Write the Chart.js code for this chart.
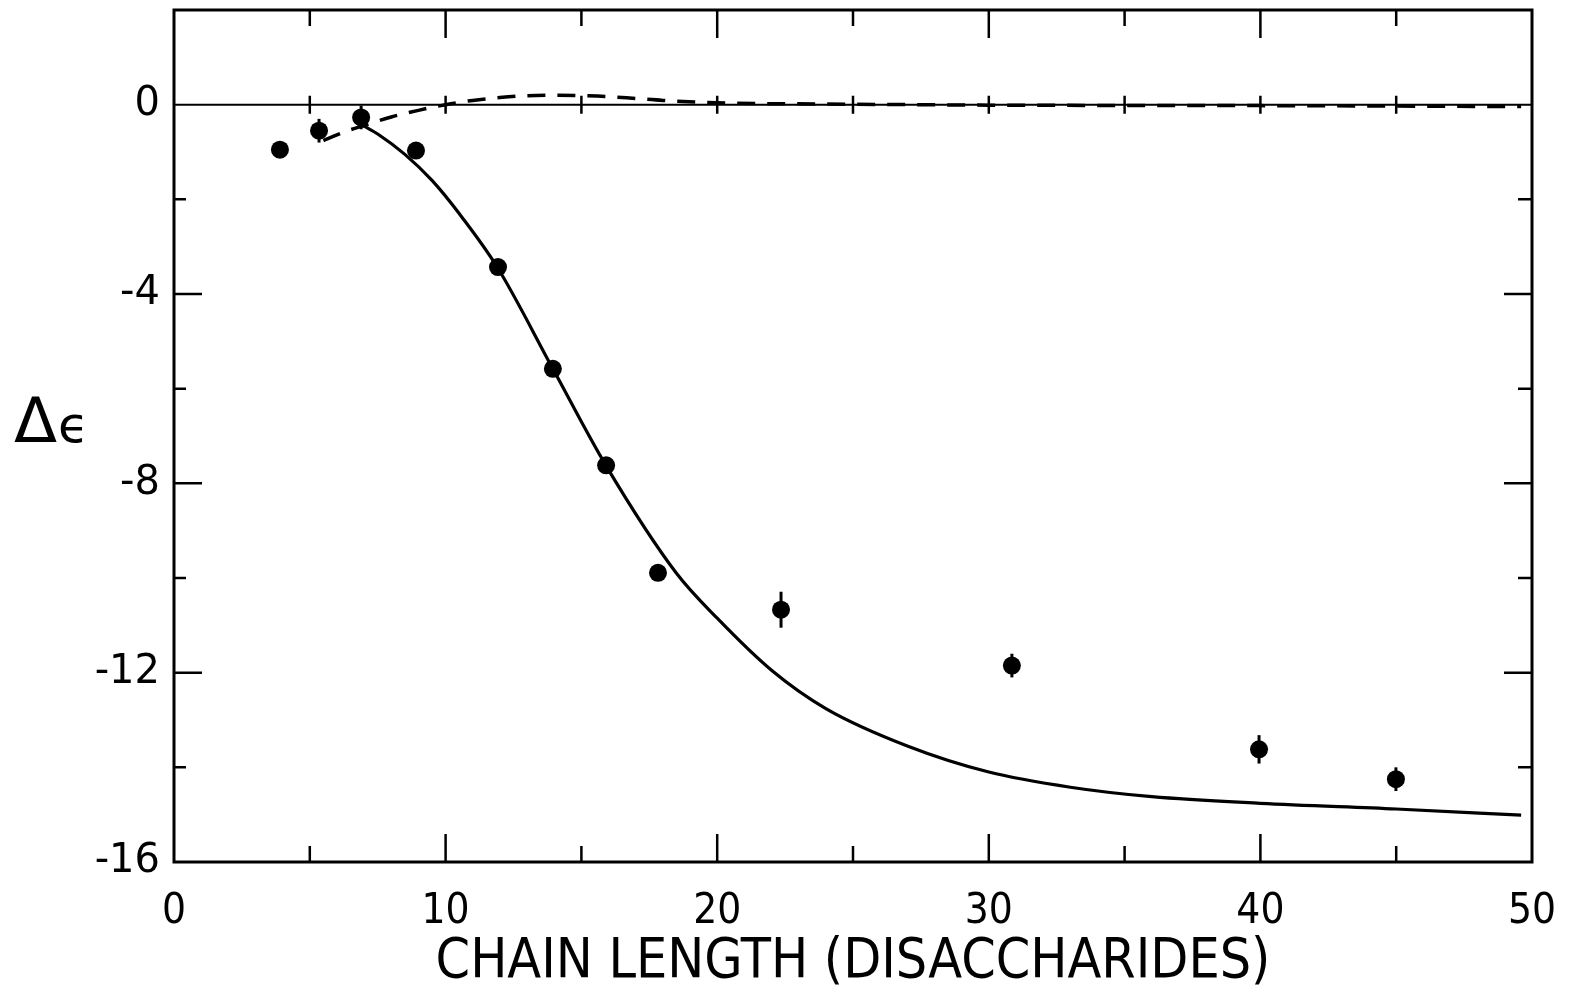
<!DOCTYPE html>
<html>
<head>
<meta charset="utf-8">
<script src="https://cdn.jsdelivr.net/npm/chart.js@4.4.1/dist/chart.umd.min.js"></script>
<style>
html,body{margin:0;padding:0;background:#fff;}
#wrap{width:1572px;height:990px;}
</style>
</head>
<body>
<div id="wrap"><canvas id="c" width="1572" height="990"></canvas></div>
<script>
// ---- data ----
const pointX   = [3.90, 5.34, 6.89, 8.91, 11.93, 13.95, 15.91, 17.82, 22.35, 30.85, 39.95, 44.99];
const pointY   = [-0.95, -0.55, -0.27, -0.97, -3.43, -5.58, -7.62, -9.89, -10.67, -11.85, -13.62, -14.25];
const pointErr = [0, 0.25, 0.25, 0, 0, 0, 0, 0, 0.38, 0.25, 0.30, 0.25];

const fitX = [6.9, 7.5, 8.5, 9.5, 10.5, 11.9, 13.95, 15.9, 18.5, 20, 22, 24, 27, 30, 33, 36, 40, 45, 49.6];
const fitY = [-0.42, -0.62, -1.05, -1.6, -2.3, -3.43, -5.58, -7.62, -9.9, -10.85, -11.95, -12.76, -13.55, -14.1, -14.42, -14.62, -14.76, -14.88, -15.01];

const dashX = [5.5, 6.0, 6.5, 7.0, 8.0, 9.0, 10.0, 11.0, 12.0, 13.0, 14.0, 15.0, 16.0, 17.0, 18.0, 20.0, 25.0, 30.0, 40.0, 49.6];
const dashY = [-0.76, -0.64, -0.53, -0.44, -0.26, -0.12, 0.0, 0.09, 0.15, 0.19, 0.2, 0.19, 0.17, 0.13, 0.09, 0.04, 0.01, -0.01, -0.02, -0.04];

const xTickLabels = [0, 10, 20, 30, 40, 50];
const xMinorTicks = [5, 15, 25, 35, 45];
const yTickLabels = [0, -4, -8, -12, -16];
const yMinorTicks = [2, -2, -6, -10, -14];

const xTitle = 'CHAIN LENGTH (DISACCHARIDES)';
const yTitleA = 'Δ';
const yTitleB = 'ϵ';

const toXY = (xs, ys) => xs.map((x, i) => ({x: x, y: ys[i]}));

const framePlugin = {
  id: 'frame',
  afterDatasetsDraw(chart) {
    const ctx = chart.ctx, a = chart.chartArea;
    const xs = chart.scales.x, ys = chart.scales.y;
    ctx.save();
    ctx.strokeStyle = '#000';
    ctx.lineCap = 'butt';
    // frame
    ctx.lineWidth = 3;
    ctx.strokeRect(a.left, a.top, a.right - a.left, a.bottom - a.top);
    // zero line
    const y0 = ys.getPixelForValue(0);
    ctx.lineWidth = 2;
    ctx.beginPath(); ctx.moveTo(a.left, y0); ctx.lineTo(a.right, y0); ctx.stroke();
    // x ticks (inward, bottom & top) + crossing ticks at zero line
    ctx.lineWidth = 2.5;
    const xMajor = xTickLabels.filter(v => v > 0 && v < 50);
    const drawX = (v, len) => {
      const px = xs.getPixelForValue(v);
      ctx.beginPath();
      ctx.moveTo(px, a.bottom); ctx.lineTo(px, a.bottom - len);
      ctx.moveTo(px, a.top); ctx.lineTo(px, a.top + len);
      ctx.moveTo(px, y0 - 9); ctx.lineTo(px, y0 + 9);
      ctx.stroke();
    };
    xMajor.forEach(v => drawX(v, 28));
    xMinorTicks.forEach(v => drawX(v, 16));
    // y ticks (inward, left & right)
    const drawY = (v, lenL, lenR) => {
      const py = ys.getPixelForValue(v);
      ctx.beginPath();
      ctx.moveTo(a.left, py); ctx.lineTo(a.left + lenL, py);
      ctx.moveTo(a.right, py); ctx.lineTo(a.right - lenR, py);
      ctx.stroke();
    };
    yTickLabels.filter(v => v > -16 && v !== 0).forEach(v => drawY(v, 28, 28));
    yMinorTicks.filter(v => v < 2).forEach(v => drawY(v, 12, 14));
    // error bars
    ctx.lineWidth = 3;
    pointX.forEach((x, i) => {
      if (!pointErr[i]) return;
      const px = xs.getPixelForValue(x);
      ctx.beginPath();
      ctx.moveTo(px, ys.getPixelForValue(pointY[i] + pointErr[i]));
      ctx.lineTo(px, ys.getPixelForValue(pointY[i] - pointErr[i]));
      ctx.stroke();
    });
    // y title, horizontal
    ctx.fillStyle = '#000';
    ctx.textAlign = 'left';
    ctx.textBaseline = 'alphabetic';
    ctx.font = '63px "DejaVu Sans"';
    ctx.fillText(yTitleA, 14, 442);
    const w = ctx.measureText(yTitleA).width;
    ctx.font = '50px "DejaVu Sans"';
    ctx.fillText(yTitleB, 14 + w + 1, 442);
    ctx.restore();
  }
};

const zeroPad = s => { s.paddingTop = 0; s.paddingBottom = 0; s.paddingLeft = 0; s.paddingRight = 0; };

new Chart(document.getElementById('c'), {
  type: 'scatter',
  data: {
    datasets: [
      {
        label: 'fit', type: 'line', data: toXY(fitX, fitY),
        borderColor: '#000', borderWidth: 3.2, pointRadius: 0,
        cubicInterpolationMode: 'monotone', fill: false, order: 2
      },
      {
        label: 'dashed', type: 'line', data: toXY(dashX, dashY),
        borderColor: '#000', borderWidth: 3.5, borderDash: [18, 12], pointRadius: 0,
        cubicInterpolationMode: 'monotone', fill: false, order: 2
      },
      {
        label: 'data', data: toXY(pointX, pointY),
        backgroundColor: '#000', borderColor: '#000', pointRadius: 9, pointBorderWidth: 0, order: 1
      }
    ]
  },
  options: {
    responsive: false,
    animation: false,
    events: [],
    layout: {padding: {top: 10, right: 40, left: 0, bottom: 0}},
    plugins: {legend: {display: false}, tooltip: {enabled: false}},
    scales: {
      x: {
        type: 'linear', min: 0, max: 50,
        grid: {display: false}, border: {display: false},
        afterBuildTicks: s => { s.ticks = xTickLabels.map(v => ({value: v})); },
        afterFit: s => { s.height = 128; zeroPad(s); },
        ticks: {
          color: '#000', padding: 17, maxRotation: 0, autoSkip: false,
          font: {family: '"DejaVu Sans Condensed", sans-serif', size: 42},
          callback: v => String(v)
        },
        title: {
          display: true, text: xTitle, color: '#000',
          font: {family: '"DejaVu Sans Condensed", sans-serif', size: 55},
          padding: {top: 0, bottom: -6}
        }
      },
      y: {
        type: 'linear', min: -16, max: 2,
        grid: {display: false}, border: {display: false},
        afterBuildTicks: s => { s.ticks = yTickLabels.map(v => ({value: v})); },
        afterFit: s => { s.width = 174; zeroPad(s); },
        ticks: {
          color: '#000', padding: 6, autoSkip: false,
          font: {family: '"DejaVu Sans", sans-serif', size: 40},
          callback: v => String(v)
        }
      }
    }
  },
  plugins: [framePlugin]
});
</script>
</body>
</html>
